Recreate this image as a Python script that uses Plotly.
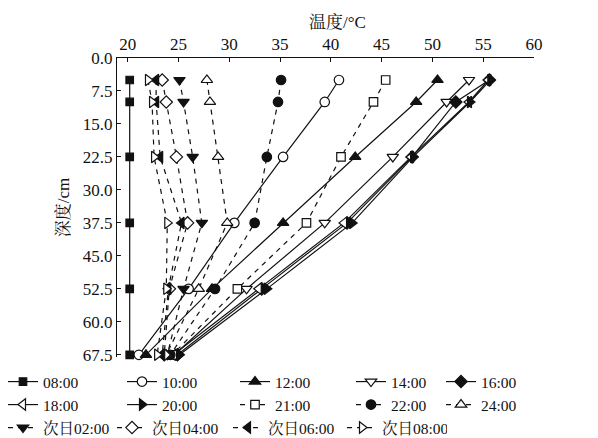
import plotly.graph_objects as go

depth = [5, 10, 22.5, 37.5, 52.5, 67.5]

t_0800 = [20.2, 20.2, 20.2, 20.2, 20.2, 20.2]
t_1000 = [40.8, 39.4, 35.3, 30.5, 26.0, 21.1]
t_1200 = [50.5, 48.4, 42.4, 35.3, 28.3, 21.8]
t_1400 = [53.6, 51.4, 46.1, 39.4, 31.7, 24.6]
t_1600 = [55.6, 52.3, 48.0, 41.6, 33.2, 24.9]
t_1800 = [55.5, 53.6, 47.9, 41.3, 32.9, 24.5]
t_2000 = [55.7, 53.7, 48.1, 42.1, 33.7, 25.1]
t_2100 = [45.4, 44.2, 41.0, 37.6, 30.8, 24.4]
t_2200 = [35.1, 34.8, 33.7, 32.5, 28.6, 24.2]
t_2400 = [27.8, 28.1, 28.9, 29.8, 27.0, 23.8]
n_0200 = [25.1, 25.5, 26.4, 27.3, 25.5, 23.9]
n_0400 = [23.4, 23.8, 24.8, 25.9, 24.1, 23.6]
n_0600 = [22.8, 22.8, 23.2, 25.3, 24.0, 23.4]
n_0800 = [22.0, 22.4, 22.6, 23.9, 23.8, 22.9]

names = ["08:00", "10:00", "12:00", "14:00", "16:00",
         "18:00", "20:00", "21:00", "22:00", "24:00",
         "次日02:00", "次日04:00", "次日06:00", "次日08:00"]
values = [t_0800, t_1000, t_1200, t_1400, t_1600,
          t_1800, t_2000, t_2100, t_2200, t_2400,
          n_0200, n_0400, n_0600, n_0800]

x_ticks = [20, 25, 30, 35, 40, 45, 50, 55, 60]
y_ticks = [0.0, 7.5, 15.0, 22.5, 30.0, 37.5, 45.0, 52.5, 60.0, 67.5]

# style per series: (symbol, filled, dashed, size)
styles = [
    ("square", True, False, 7.5),
    ("circle", False, False, 9.5),
    ("triangle-up", True, False, 10),
    ("triangle-down", False, False, 10),
    ("diamond", True, False, 9.5),
    ("triangle-left", False, False, 10),
    ("triangle-right", True, False, 10),
    ("square", False, True, 8.5),
    ("circle", True, True, 9.5),
    ("triangle-up", False, True, 10),
    ("triangle-down", True, True, 10),
    ("diamond", False, True, 9.5),
    ("triangle-left", True, True, 10),
    ("triangle-right", False, True, 10),
]

# legend row and per-entry width (px) to reproduce the column layout
legend_rows = ["legend"] * 5 + ["legend2"] * 5 + ["legend3"] * 4
legend_widths = [74, 68, 71, 45, 40,
                 74, 68, 71, 45, 40,
                 64, 71, 69, 60]

INK = "#111111"
FONT = "Liberation Serif, Times New Roman, Noto Serif CJK SC, Noto Sans CJK SC, serif"

fig = go.Figure()
for name, vals, (sym, filled, dashed, size), lg, lw in zip(
        names, values, styles, legend_rows, legend_widths):
    fig.add_trace(go.Scatter(
        x=vals, y=depth, name=name, mode="lines+markers",
        line=dict(color=INK, width=1.2, dash="5px,5px" if dashed else "solid"),
        marker=dict(symbol=sym, size=size,
                    color=INK if filled else "white",
                    line=dict(color=INK, width=1.2)),
        legend=lg, legendwidth=lw, cliponaxis=False,
    ))

# the page body adds an 8px margin, so the figure is drawn 8px in from the window edge
OFF = 8
W, H = 598 - OFF, 438 - OFF
ml, mr, mt, mb = 117 - OFF, 64, 58 - OFF, 81
pw = W - ml - mr
ph = H - mt - mb

def px_to_paper_x(px):
    return (px - OFF - ml) / pw

def px_to_paper_y(py):
    return (H - mb - (py - OFF)) / ph

leg_common = dict(orientation="h", xanchor="left", yanchor="middle",
                  font=dict(family=FONT, size=15.5, color=INK),
                  bgcolor="rgba(0,0,0,0)", borderwidth=0,
                  itemsizing="trace", tracegroupgap=0)

fig.update_layout(
    width=W, height=H,
    margin=dict(l=ml, r=mr, t=mt, b=mb, autoexpand=False),
    paper_bgcolor="white", plot_bgcolor="white",
    font=dict(family=FONT, size=17, color=INK),
    xaxis=dict(side="top", range=[18.95, 60], tickvals=x_ticks,
               ticks="inside", ticklen=4, tickwidth=1.2, tickcolor=INK,
               showline=True, linecolor=INK, linewidth=1.2,
               showgrid=False, zeroline=False,
               tickfont=dict(family=FONT, size=17, color=INK)),
    yaxis=dict(range=[68, 0], tickvals=y_ticks, tickformat=".1f",
               ticks="inside", ticklen=4, tickwidth=1.2, tickcolor=INK,
               showline=True, linecolor=INK, linewidth=1.2,
               showgrid=False, zeroline=False,
               tickfont=dict(family=FONT, size=17, color=INK),
               title=dict(text="深度/cm", standoff=8,
                          font=dict(family=FONT, size=17, color=INK))),
    legend=dict(x=px_to_paper_x(3), y=px_to_paper_y(382), **leg_common),
    legend2=dict(x=px_to_paper_x(3), y=px_to_paper_y(405), **leg_common),
    legend3=dict(x=px_to_paper_x(3), y=px_to_paper_y(428), **leg_common),
    annotations=[dict(text="温度/°C", xref="paper", yref="paper",
                      x=px_to_paper_x(337), y=px_to_paper_y(22),
                      showarrow=False, xanchor="center", yanchor="middle",
                      font=dict(family=FONT, size=17, color=INK))],
)

fig.write_html("out.html")
